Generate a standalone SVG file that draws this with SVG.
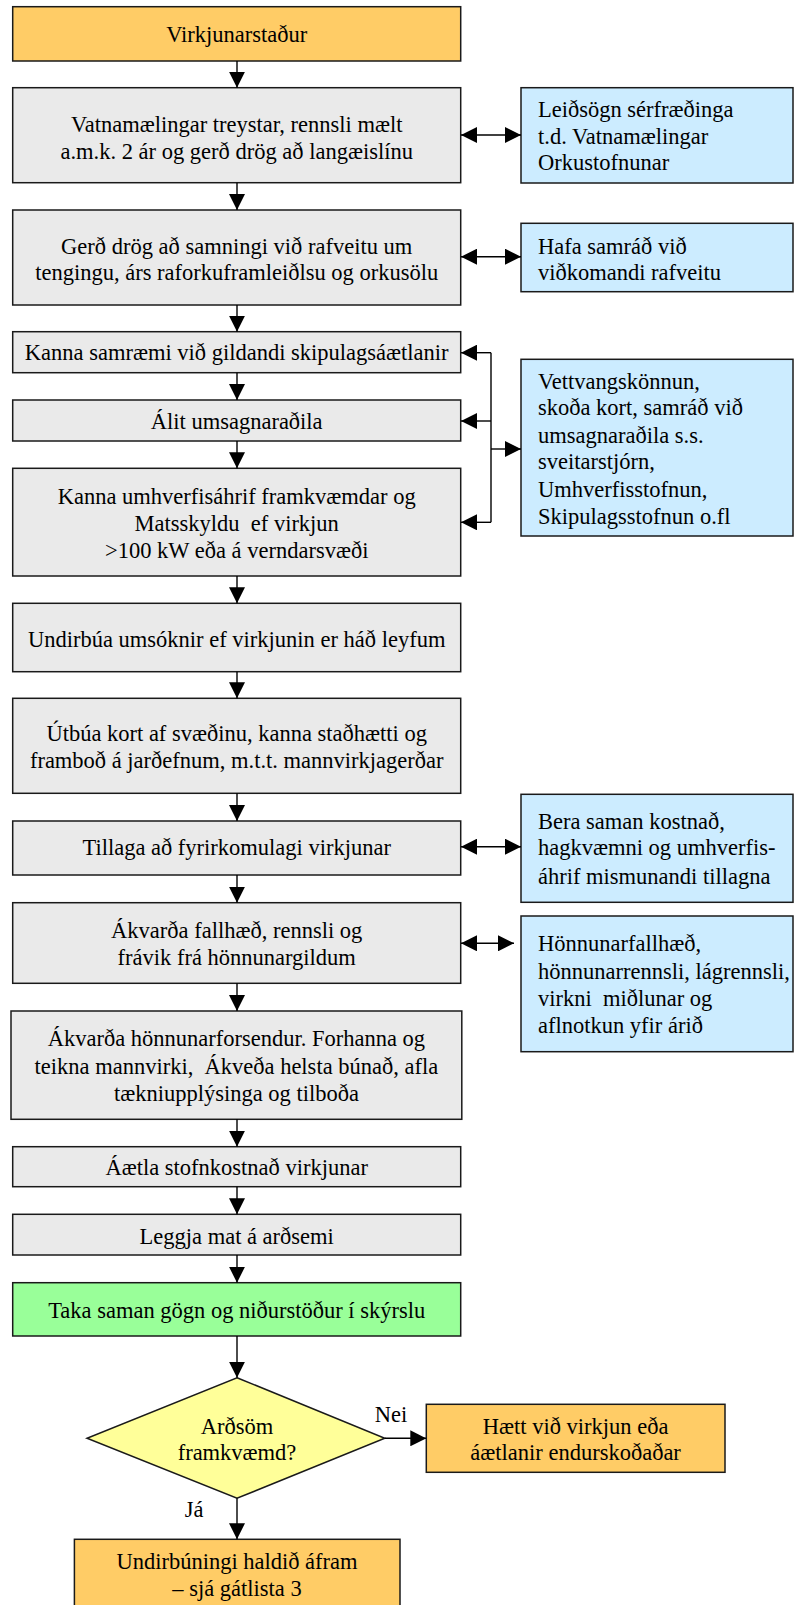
<svg xmlns="http://www.w3.org/2000/svg" width="794" height="1605" viewBox="0 0 794 1605">
<defs>
<style>
.b{stroke:#1a1a1a;stroke-width:1.5}
.or{fill:#FFCC66}.gr{fill:#EAEAEA}.bl{fill:#CCECFF}.gn{fill:#99FF99}.yl{fill:#FFFF99}
text{font-family:"Liberation Serif","Times New Roman",serif;font-size:22.5px;fill:#000;white-space:pre}
.c{text-anchor:middle}
.cn line,.cn polyline{stroke:#000;stroke-width:1.4;fill:none}
</style>
<marker id="ah" viewBox="0 0 16 16" refX="16" refY="8" markerWidth="16" markerHeight="16" markerUnits="userSpaceOnUse" orient="auto-start-reverse">
<path d="M0,0 L16,8 L0,16 z" fill="#000"/>
</marker>
</defs>
<rect width="794" height="1605" fill="#fff"/>

<g id="n1"><rect class="b or" x="12.7" y="6.7" width="448" height="54.3"/><text class="c" x="236.7" y="42">Virkjunarstaður</text></g>
<g id="n2"><rect class="b gr" x="12.7" y="87.7" width="448" height="95"/><text class="c" x="236.7" y="132">Vatnamælingar treystar, rennsli mælt</text><text class="c" x="236.7" y="158.7">a.m.k. 2 ár og gerð drög að langæislínu</text></g>
<g id="n3"><rect class="b gr" x="12.7" y="210" width="448" height="95"/><text class="c" x="236.7" y="253.7">Gerð drög að samningi við rafveitu um</text><text class="c" x="236.7" y="280.3">tengingu, árs raforkuframleiðlsu og orkusölu</text></g>
<g id="n4"><rect class="b gr" x="12.7" y="331.7" width="448" height="41"/><text class="c" x="236.7" y="360.3">Kanna samræmi við gildandi skipulagsáætlanir</text></g>
<g id="n5"><rect class="b gr" x="12.7" y="400" width="448" height="41"/><text class="c" x="236.7" y="428.7">Álit umsagnaraðila</text></g>
<g id="n6"><rect class="b gr" x="12.7" y="468.3" width="448" height="107.7"/><text class="c" x="236.7" y="503.7">Kanna umhverfisáhrif framkvæmdar og</text><text class="c" x="236.7" y="531">Matsskyldu  ef virkjun</text><text class="c" x="236.7" y="557.7">&gt;100 kW eða á verndarsvæði</text></g>
<g id="n7"><rect class="b gr" x="12.7" y="603.3" width="448" height="68.4"/><text class="c" x="236.7" y="647">Undirbúa umsóknir ef virkjunin er háð leyfum</text></g>
<g id="n8"><rect class="b gr" x="12.7" y="698.3" width="448" height="95"/><text class="c" x="236.7" y="741">Útbúa kort af svæðinu, kanna staðhætti og</text><text class="c" x="236.7" y="768.3">framboð á jarðefnum, m.t.t. mannvirkjagerðar</text></g>
<g id="n9"><rect class="b gr" x="12.7" y="821" width="448" height="54"/><text class="c" x="236.7" y="855.3">Tillaga að fyrirkomulagi virkjunar</text></g>
<g id="n10"><rect class="b gr" x="12.7" y="902.7" width="448" height="80.6"/><text class="c" x="236.7" y="938">Ákvarða fallhæð, rennsli og</text><text class="c" x="236.7" y="965.3">frávik frá hönnunargildum</text></g>
<g id="n11"><rect class="b gr" x="11" y="1011" width="450.8" height="108.3"/><text class="c" x="236.4" y="1046.3">Ákvarða hönnunarforsendur. Forhanna og</text><text class="c" x="236.4" y="1073.7">teikna mannvirki,  Ákveða helsta búnað, afla</text><text class="c" x="236.4" y="1101.3">tækniupplýsinga og tilboða</text></g>
<g id="n12"><rect class="b gr" x="12.7" y="1146.7" width="448" height="40"/><text class="c" x="236.7" y="1175.3">Áætla stofnkostnað virkjunar</text></g>
<g id="n13"><rect class="b gr" x="12.7" y="1214.3" width="448" height="40.7"/><text class="c" x="236.7" y="1243.7">Leggja mat á arðsemi</text></g>
<g id="n14"><rect class="b gn" x="12.7" y="1282.7" width="448" height="53.3"/><text class="c" x="236.7" y="1318">Taka saman gögn og niðurstöður í skýrslu</text></g>
<g id="n15"><polygon class="b yl" points="237,1377.7 384.8,1438.3 237,1498.3 87,1438.3"/><text class="c" x="237" y="1433.7">Arðsöm</text><text class="c" x="237" y="1460.3">framkvæmd?</text></g>
<g id="n16"><rect class="b or" x="426.3" y="1404.3" width="298.7" height="68"/><text class="c" x="575.6" y="1433.7">Hætt við virkjun eða</text><text class="c" x="575.6" y="1460.3">áætlanir endurskoðaðar</text></g>
<g id="n17"><rect class="b or" x="74.4" y="1539.3" width="325.6" height="80"/><text class="c" x="237" y="1568.7">Undirbúningi haldið áfram</text><text class="c" x="237" y="1596.3">– sjá gátlista 3</text></g>

<g id="s1"><rect class="b bl" x="521" y="87.7" width="272" height="95.3"/><text x="538" y="117">Leiðsögn sérfræðinga</text><text x="538" y="143.7">t.d. Vatnamælingar</text><text x="538" y="170.3">Orkustofnunar</text></g>
<g id="s2"><rect class="b bl" x="521" y="223.3" width="272" height="68.4"/><text x="538" y="253.7">Hafa samráð við</text><text x="538" y="280.3">viðkomandi rafveitu</text></g>
<g id="s3"><rect class="b bl" x="521" y="359.3" width="272" height="176.7"/><text x="538" y="388.7">Vettvangskönnun,</text><text x="538" y="415.3">skoða kort, samráð við</text><text x="538" y="442.7">umsagnaraðila s.s.</text><text x="538" y="469.3">sveitarstjórn,</text><text x="538" y="497">Umhverfisstofnun,</text><text x="538" y="523.7">Skipulagsstofnun o.fl</text></g>
<g id="s4"><rect class="b bl" x="521" y="794.3" width="272" height="108"/><text x="538" y="828.7">Bera saman kostnað,</text><text x="538" y="855.3">hagkvæmni og umhverfis-</text><text x="538" y="883.7">áhrif mismunandi tillagna</text></g>
<g id="s5"><rect class="b bl" x="521" y="916" width="272" height="135.7"/><text x="538" y="951.3">Hönnunarfallhæð,</text><text x="538" y="978.7">hönnunarrennsli, lágrennsli,</text><text x="538" y="1006.3">virkni  miðlunar og</text><text x="538" y="1033">aflnotkun yfir árið</text></g>

<g id="connectors" class="cn">
<line x1="237" y1="61" x2="237" y2="87.7" marker-end="url(#ah)"/>
<line x1="237" y1="182.7" x2="237" y2="210" marker-end="url(#ah)"/>
<line x1="237" y1="305" x2="237" y2="331.7" marker-end="url(#ah)"/>
<line x1="237" y1="372.7" x2="237" y2="400" marker-end="url(#ah)"/>
<line x1="237" y1="441" x2="237" y2="468.3" marker-end="url(#ah)"/>
<line x1="237" y1="576" x2="237" y2="603.3" marker-end="url(#ah)"/>
<line x1="237" y1="671.7" x2="237" y2="698.3" marker-end="url(#ah)"/>
<line x1="237" y1="793.3" x2="237" y2="821" marker-end="url(#ah)"/>
<line x1="237" y1="875" x2="237" y2="902.7" marker-end="url(#ah)"/>
<line x1="237" y1="983.3" x2="237" y2="1011" marker-end="url(#ah)"/>
<line x1="237" y1="1119.3" x2="237" y2="1146.7" marker-end="url(#ah)"/>
<line x1="237" y1="1186.7" x2="237" y2="1214.3" marker-end="url(#ah)"/>
<line x1="237" y1="1255" x2="237" y2="1282.7" marker-end="url(#ah)"/>
<line x1="237" y1="1336" x2="237" y2="1377.7" marker-end="url(#ah)"/>
<line x1="237" y1="1498.3" x2="237" y2="1539.3" marker-end="url(#ah)"/>
<line x1="384.8" y1="1438.3" x2="426.3" y2="1438.3" marker-end="url(#ah)"/>
<line x1="461" y1="135" x2="521" y2="135" marker-start="url(#ah)" marker-end="url(#ah)"/>
<line x1="461" y1="256.7" x2="521" y2="256.7" marker-start="url(#ah)" marker-end="url(#ah)"/>
<line x1="461" y1="846.7" x2="521" y2="846.7" marker-start="url(#ah)" marker-end="url(#ah)"/>
<line x1="461" y1="943.3" x2="514" y2="943.3" marker-start="url(#ah)" marker-end="url(#ah)"/>
<polyline points="491,352.7 491,522.3"/>
<line x1="491" y1="352.7" x2="461" y2="352.7" marker-end="url(#ah)"/>
<line x1="491" y1="421" x2="461" y2="421" marker-end="url(#ah)"/>
<line x1="491" y1="522.3" x2="461" y2="522.3" marker-end="url(#ah)"/>
<line x1="491" y1="449" x2="521" y2="449" marker-end="url(#ah)"/>
<text class="c" x="391" y="1422">Nei</text>
<text class="c" x="194" y="1517">Já</text>
</g>
</svg>
